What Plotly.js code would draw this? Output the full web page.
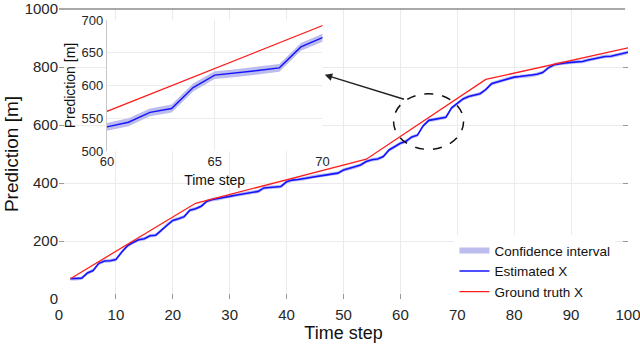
<!DOCTYPE html>
<html>
<head>
<meta charset="utf-8">
<script src="https://cdn.plot.ly/plotly-3.0.1.min.js"></script>
<style>
  html, body { margin: 0; padding: 0; background: #fff; }
  #root { width: 640px; height: 345px; }
</style>
</head>
<body>
<div id="root"></div>
<script>
// estimated X, one value per time step starting at step 2
var firstStep = 2;
var estimated = [
    70, 70, 72, 90, 98, 123, 131, 132, 136, 161,
    183, 195, 204, 208, 218, 220, 237, 257, 271, 277,
    284, 306, 311, 320, 337, 343, 346, 351, 354, 358,
    361, 365, 368, 371, 383, 385, 386, 388, 404, 410,
    412, 415, 419, 423, 426, 428, 432, 434, 445, 450,
    455, 462, 474, 480, 483, 491, 514, 525, 537, 544,
    559, 565, 597, 616, 619, 623, 627, 659, 673, 690,
    698, 703, 708, 722, 742, 748, 754, 760, 765, 767,
    769, 771, 775, 781, 797, 808, 812, 814, 816, 818,
    819, 824, 828, 833, 836, 837, 841, 846, 851
];

// ground truth is piecewise straight, these are its corners
var truthSteps = [2, 24, 54, 75, 100];
var truthValues = [70, 330, 482, 757, 866];

// half width of the confidence band, it looks constant in the inset
var ciHalfWidth = 6;

var mainXTicks = [0, 10, 20, 30, 40, 50, 60, 70, 80, 90, 100];
var mainYTicks = [0, 200, 400, 600, 800, 1000];
var insetXTicks = [60, 65, 70];
var insetYTicks = [500, 550, 600, 650, 700];

window.onload = buildChart;

function getSteps() {
    var steps = [];
    for (var i = 0; i < estimated.length; i++) {
        steps.push(firstStep + i);
    }
    return steps;
}

function bandTrace(steps, xa, ya, show) {
    var xs = steps.slice();
    var ys = [];
    for (var i = 0; i < estimated.length; i++) {
        ys.push(estimated[i] + ciHalfWidth);
    }
    for (var j = estimated.length - 1; j >= 0; j--) {
        xs.push(steps[j]);
        ys.push(estimated[j] - ciHalfWidth);
    }
    return {
        x: xs, y: ys, xaxis: xa, yaxis: ya,
        type: 'scatter', mode: 'none', fill: 'toself',
        fillcolor: 'rgb(188, 188, 238)',
        name: 'Confidence interval', showlegend: show
    };
}

function buildChart() {
    var steps = getSteps();
    var font = '"Liberation Sans", Arial, sans-serif';

    var data = [
        bandTrace(steps, 'x', 'y', true),
        {
            x: steps, y: estimated, type: 'scatter', mode: 'lines',
            line: {color: 'rgb(20, 20, 255)', width: 1.6},
            name: 'Estimated X'
        },
        {
            x: truthSteps, y: truthValues, type: 'scatter', mode: 'lines',
            line: {color: 'rgb(255, 30, 30)', width: 1.3},
            name: 'Ground truth X'
        },
        // inset copies
        bandTrace(steps, 'x2', 'y2', false),
        {
            x: steps, y: estimated, xaxis: 'x2', yaxis: 'y2',
            type: 'scatter', mode: 'lines',
            line: {color: 'rgb(20, 20, 255)', width: 1.4},
            showlegend: false
        },
        {
            x: truthSteps, y: truthValues, xaxis: 'x2', yaxis: 'y2',
            type: 'scatter', mode: 'lines',
            line: {color: 'rgb(255, 30, 30)', width: 1.2},
            showlegend: false
        }
    ];

    var layout = {
        width: 640,
        height: 345,
        margin: {l: 59, r: 12, t: 9, b: 46},
        paper_bgcolor: '#fff',
        plot_bgcolor: '#fff',
        font: {family: font, color: '#262626', size: 15},
        showlegend: true,
        legend: {
            x: 0.695, y: 0.22, xanchor: 'left', yanchor: 'top',
            bgcolor: '#fff',
            font: {size: 13.5, color: '#111'},
            itemwidth: 30,
            tracegroupgap: 0
        },
        xaxis: {
            range: [0, 100],
            tickvals: mainXTicks,
            ticks: 'inside', ticklen: 5, tickcolor: '#999',
            ticklabelstandoff: 5,
            ticklabeloverflow: 'allow',
            showgrid: true, gridcolor: '#ebebeb',
            zeroline: false, showline: false,
            title: {text: 'Time step', font: {size: 18, color: '#111'}, standoff: 4}
        },
        yaxis: {
            range: [0, 1000],
            tickvals: mainYTicks,
            ticks: 'inside', ticklen: 5, tickcolor: '#999',
            ticklabeloverflow: 'allow',
            mirror: 'ticks',
            showgrid: true, gridcolor: '#ebebeb',
            zeroline: false, showline: false,
            title: {text: 'Prediction [m]', font: {size: 19, color: '#111'}, standoff: 0}
        },
        xaxis2: {
            domain: [0.0842, 0.463],
            anchor: 'y2',
            range: [60, 70],
            tickvals: insetXTicks,
            ticks: '', ticklabelstandoff: 1,
            showgrid: true, gridcolor: '#ebebeb',
            zeroline: false, showline: false,
            tickfont: {size: 13},
            title: {text: 'Time step', font: {size: 14, color: '#111'}, standoff: 7}
        },
        yaxis2: {
            domain: [0.51, 0.962],
            anchor: 'x2',
            range: [500, 700],
            tickvals: insetYTicks,
            ticks: '',
            showgrid: true, gridcolor: '#ebebeb',
            zeroline: false, showline: true, linecolor: '#c8c8c8', linewidth: 1,
            tickfont: {size: 13},
            title: {text: 'Prediction [m]', font: {size: 14, color: '#111'}, standoff: 2}
        },
        shapes: [
            // top border of the main box
            {
                type: 'line', xref: 'paper', yref: 'paper',
                x0: 0, x1: 0.995, y0: 1, y1: 1,
                line: {color: '#555', width: 1.2}
            },
            // dashed ellipse round the zoomed part
            {
                type: 'circle', xref: 'x', yref: 'y',
                x0: 58.8, x1: 71.1, y0: 516, y1: 708,
                line: {color: '#111', width: 1.5, dash: 'dash'}
            }
        ],
        annotations: [
            {
                x: 46.7, y: 773, xref: 'x', yref: 'y',
                ax: 60.9, ay: 687, axref: 'x', ayref: 'y',
                text: '', showarrow: true,
                arrowhead: 2, arrowsize: 1, arrowwidth: 1.5,
                arrowcolor: '#222'
            }
        ]
    };

    Plotly.newPlot('root', data, layout, {displayModeBar: false, staticPlot: true});
}
</script>
</body>
</html>
